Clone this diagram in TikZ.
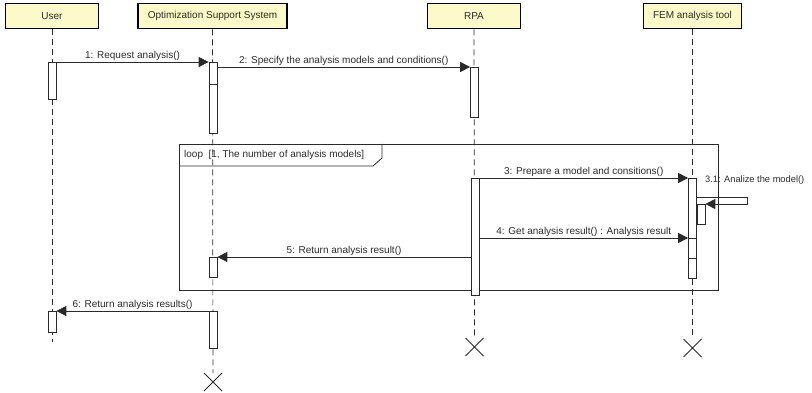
\documentclass[tikz,border=0pt]{standalone}
\usepackage{fontspec}
\setmainfont{Liberation Sans}
\usetikzlibrary{arrows.meta,shapes.misc}
\definecolor{head}{HTML}{FBFAC8}
\definecolor{ink}{HTML}{2A2A2A}

\begin{document}
\begin{tikzpicture}[x=1pt,y=-1pt,>={Triangle[length=10pt,width=10pt]},
    font=\fontsize{10}{12}\selectfont,text=ink,
    lifeline/.style={draw,fill=head,line width=1.6pt,minimum width=93,
                     minimum height=25},
    bar/.style={draw=ink,fill=white,line width=0.7pt,minimum width=8,
                inner sep=0pt,anchor=north},
    life/.style={ink,line width=0.7pt,dash pattern=on 6pt off 4pt},
    msg/.style={ink,line width=0.8pt,->},
    lbl/.style={above,inner sep=1.5pt},
    destroy/.style={cross out,draw=ink,line width=1pt,minimum size=17}]
    \useasboundingbox (0,0) rectangle (812,393);
    \node[lifeline] (user) at (52,16) {User};
    \node[lifeline,minimum width=149] (oss) at (212.5,16) {Optimization Support System};
    \node[lifeline] (rpa) at (474,16) {RPA};
    \node[lifeline,minimum width=98] (fem) at (692.5,16) {FEM analysis tool};
    \coordinate (userEnd) at (52,342);
    \node[destroy] (ossEnd) at (213,382) {};
    \node[destroy] (rpaEnd) at (474.5,347) {};
    \node[destroy] (femEnd) at (692.5,348) {};
    \draw[life] (user) -- (userEnd);
    \draw[life] (oss) -- (ossEnd);
    \draw[life] (rpa) -- (rpaEnd);
    \draw[life] (fem) -- (femEnd);
    % loop fragment
    \draw[ink,line width=0.8pt] (179,144) rectangle (718,290);
    \node[anchor=west,inner sep=0pt] (looptag) at (184,155)
        {loop\ \ [1, The number of analysis models]};
    \draw[ink,line width=0.8pt] (179,166) -- (373,166) -- (382,158) -- (382,144);
    % activations
    \node[bar,minimum height=37] (u1) at (52,62) {};
    \node[bar,minimum height=21] (u2) at (52,311) {};
    \node[bar,minimum height=49] (o2) at (213,84) {};
    \node[bar,minimum height=22] (o1) at (213,62) {};
    \node[bar,minimum height=20] (o3) at (213,257) {};
    \node[bar,minimum height=37] (o4) at (213,311) {};
    \node[bar,minimum height=50] (r1) at (474.5,67) {};
    \node[bar,minimum height=117] (r2) at (475,178) {};
    \node[bar,minimum height=100] (f1) at (692.5,178) {};
    \node[bar,minimum height=20] (f3) at (692.5,238) {};
    \node[bar,minimum height=20] (f2) at (701,204) {};
    % messages
    \draw[msg] (u1.north east) -- node[lbl] {1: Request analysis()} (o1.north west);
    \draw[msg] (o1.east |- r1.north) -- node[lbl]
        {2: Specify the analysis models and conditions()} (r1.north west);
    \draw[msg] (r2.north east) -- node[lbl]
        {3: Prepare a model and consitions()} (f1.north west);
    \coordinate (selfR) at (747,197);
    \draw[msg] (f1.east |- selfR) -- (selfR) |- (f2.north east);
    \node[anchor=west,inner sep=0pt,font=\fontsize{9.3}{11}\selectfont] (selflbl)
        at (705,180) {3.1: Analize the model()};
    \draw[msg] (r2.east |- f3.north) -- node[lbl]
        {4: Get analysis result() : Analysis result} (f3.north west);
    \draw[msg] (r2.west |- o3.north) -- node[lbl]
        {5: Return analysis result()} (o3.north east);
    \draw[msg] (o4.north west) -- node[lbl] {6: Return analysis results()} (u2.north east);
\end{tikzpicture}
\end{document}
